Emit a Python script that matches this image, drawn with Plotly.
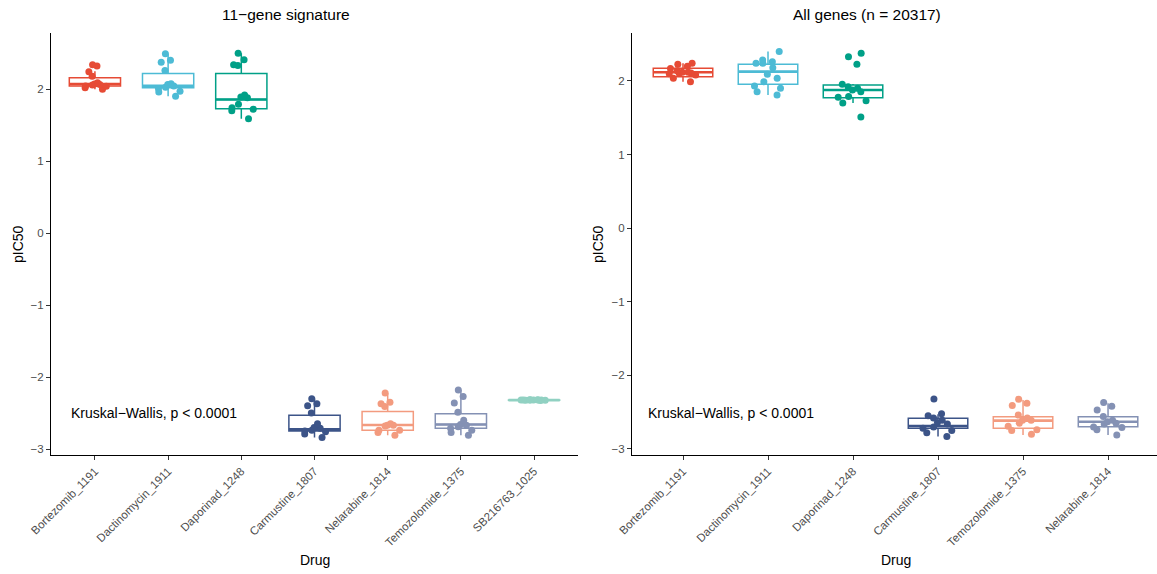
import plotly.graph_objects as go

# ---------------- data: panel 1 (11-gene signature) ----------------
sig_drugs = ["Bortezomib_1191", "Dactinomycin_1911", "Daporinad_1248", "Carmustine_1807",
             "Nelarabine_1814", "Temozolomide_1375", "SB216763_1025"]
sig_bortezomib = [2.34, 2.32, 2.24, 2.18, 2.09, 2.07, 2.065, 2.056, 2.043, 2.04, 2.02, 2.0]
sig_dactinomycin = [2.49, 2.40, 2.375, 2.26, 2.074, 2.065, 2.042, 2.028, 2.009, 1.972, 1.96, 1.90]
sig_daporinad = [2.50, 2.41, 2.34, 2.33, 1.92, 1.89, 1.88, 1.79, 1.74, 1.72, 1.70, 1.59]
sig_carmustine = [-2.30, -2.37, -2.40, -2.50, -2.65, -2.70, -2.71, -2.74, -2.75, -2.76, -2.79, -2.84]
sig_nelarabine = [-2.22, -2.35, -2.37, -2.41, -2.65, -2.67, -2.67, -2.68, -2.74, -2.74, -2.77, -2.81]
sig_temozolomide = [-2.18, -2.27, -2.36, -2.49, -2.60, -2.66, -2.67, -2.69, -2.71, -2.74, -2.77, -2.81]
sig_sb216763 = [-2.32, -2.315, -2.325, -2.32, -2.318, -2.322, -2.32, -2.32, -2.317, -2.323, -2.32, -2.32]
sig_q1 = [2.042, 2.019, 1.727, -2.75, -2.74, -2.71, -2.322]
sig_median = [2.072, 2.045, 1.857, -2.727, -2.667, -2.66, -2.32]
sig_q3 = [2.157, 2.218, 2.218, -2.532, -2.48, -2.51, -2.318]
sig_low = [2.0, 1.90, 1.59, -2.84, -2.81, -2.81, -2.325]
sig_high = [2.25, 2.49, 2.50, -2.30, -2.22, -2.18, -2.315]

# ---------------- data: panel 2 (All genes) ----------------
all_drugs = ["Bortezomib_1191", "Dactinomycin_1911", "Daporinad_1248", "Carmustine_1807",
             "Temozolomide_1375", "Nelarabine_1814"]
all_bortezomib = [2.24, 2.227, 2.20, 2.17, 2.14, 2.12, 2.12, 2.11, 2.104, 2.10, 2.08, 2.036, 1.99]
all_dactinomycin = [2.40, 2.285, 2.26, 2.24, 2.24, 2.18, 2.09, 2.036, 1.99, 1.932, 1.90, 1.855, 1.81]
all_daporinad = [2.376, 2.33, 2.227, 1.955, 1.92, 1.90, 1.878, 1.855, 1.79, 1.78, 1.73, 1.70, 1.51]
all_carmustine = [-2.32, -2.52, -2.55, -2.58, -2.61, -2.64, -2.66, -2.70, -2.72, -2.75, -2.78, -2.83]
all_temozolomide = [-2.325, -2.38, -2.41, -2.54, -2.58, -2.61, -2.61, -2.65, -2.69, -2.74, -2.75, -2.80]
all_nelarabine = [-2.37, -2.42, -2.47, -2.56, -2.61, -2.63, -2.65, -2.66, -2.70, -2.71, -2.74, -2.81]
all_q1 = [2.059, 1.955, 1.773, -2.719, -2.719, -2.697]
all_median = [2.118, 2.127, 1.878, -2.687, -2.615, -2.63]
all_q3 = [2.172, 2.227, 1.946, -2.583, -2.561, -2.561]
all_low = [1.99, 1.81, 1.70, -2.83, -2.81, -2.81]
all_high = [2.24, 2.40, 1.96, -2.53, -2.334, -2.38]

palette = ["#E64B35", "#4DBBD5", "#00A087", "#3C5488", "#F39B7F", "#8491B4", "#91D1C2"]

sig_values = [sig_bortezomib, sig_dactinomycin, sig_daporinad, sig_carmustine,
              sig_nelarabine, sig_temozolomide, sig_sb216763]
all_values = [all_bortezomib, all_dactinomycin, all_daporinad, all_carmustine,
              all_temozolomide, all_nelarabine]

fig = go.Figure()


def add_panel(drugs, values, q1, med, q3, lo, hi, xa, ya):
    for i, d in enumerate(drugs):
        col = palette[i]
        # box body + whiskers
        fig.add_trace(go.Box(
            x=[d], q1=[q1[i]], median=[med[i]], q3=[q3[i]],
            lowerfence=[lo[i]], upperfence=[hi[i]],
            boxpoints=False, width=0.7, fillcolor="white",
            line=dict(color=col, width=1.5), whiskerwidth=0,
            xaxis=xa, yaxis=ya, showlegend=False, hoverinfo="skip"))
        # thicker median bar (a flat box at the median)
        fig.add_trace(go.Box(
            x=[d], q1=[med[i]], median=[med[i]], q3=[med[i]],
            lowerfence=[med[i]], upperfence=[med[i]],
            boxpoints=False, width=0.7, fillcolor="rgba(0,0,0,0)",
            line=dict(color=col, width=2.6), whiskerwidth=0,
            xaxis=xa, yaxis=ya, showlegend=False, hoverinfo="skip"))
        # jittered points
        fig.add_trace(go.Box(
            x=[d] * len(values[i]), y=values[i],
            boxpoints="all", jitter=0.6, pointpos=0, width=0.7,
            fillcolor="rgba(0,0,0,0)", line=dict(color="rgba(0,0,0,0)", width=0),
            marker=dict(color=col, size=7, opacity=1),
            xaxis=xa, yaxis=ya, showlegend=False, hoverinfo="skip"))


add_panel(sig_drugs, sig_values, sig_q1, sig_median, sig_q3, sig_low, sig_high, "x", "y")
add_panel(all_drugs, all_values, all_q1, all_median, all_q3, all_low, all_high, "x2", "y2")

W, H = 1157, 574
T, B = 33, 119
PH = H - T - B
tickfont = dict(family="Liberation Sans, Arial, sans-serif", size=11.5, color="#4D4D4D")
axis_common = dict(showline=True, linecolor="black", linewidth=1, ticks="outside",
                   ticklen=4, tickcolor="#333333", showgrid=False, zeroline=False,
                   tickfont=tickfont, fixedrange=True, automargin=False)

ytickvals = [-3, -2, -1, 0, 1, 2]
yticktext = ["\u22123", "\u22122", "\u22121", "0", "1", "2"]

fig.update_layout(
    width=W, height=H,
    margin=dict(l=0, r=0, t=T, b=B, autoexpand=False),
    plot_bgcolor="white", paper_bgcolor="white",
    font=dict(family="Liberation Sans, Arial, sans-serif", color="black"),
    boxmode="overlay", showlegend=False,
    xaxis=dict(domain=[51 / W, 578 / W], type="category", categoryorder="array",
               categoryarray=sig_drugs, range=[-0.6, 6.6], tickangle=-45, anchor="y",
               **axis_common),
    yaxis=dict(domain=[0, 1], range=[-3.083, 2.78], tickvals=ytickvals, ticktext=yticktext,
               anchor="x", **axis_common),
    xaxis2=dict(domain=[632 / W, 1.0], type="category", categoryorder="array",
                categoryarray=all_drugs, range=[-0.6, 5.576], tickangle=-45, anchor="y2",
                **axis_common),
    yaxis2=dict(domain=[0, 1], range=[-3.082, 2.652], tickvals=ytickvals, ticktext=yticktext,
                anchor="x2", **axis_common),
)


def py(ypx):
    # convert a pixel row of the page into plot-area paper coordinates
    return (H - B - ypx) / PH


ann_font = dict(family="Liberation Sans, Arial, sans-serif", size=14, color="black")
title_font = dict(family="Liberation Sans, Arial, sans-serif", size=15.5, color="black")
annotations = [
    dict(text="11\u2212gene signature", x=286 / W, y=py(15), xref="paper", yref="paper",
         showarrow=False, font=title_font, xanchor="center", yanchor="middle"),
    dict(text="All genes (n = 20317)", x=867 / W, y=py(15), xref="paper", yref="paper",
         showarrow=False, font=title_font, xanchor="center", yanchor="middle"),
    dict(text="pIC50", x=18 / W, y=py(244), xref="paper", yref="paper", textangle=-90,
         showarrow=False, font=ann_font, xanchor="center", yanchor="middle"),
    dict(text="pIC50", x=598 / W, y=py(244), xref="paper", yref="paper", textangle=-90,
         showarrow=False, font=ann_font, xanchor="center", yanchor="middle"),
    dict(text="Drug", x=315 / W, y=py(560), xref="paper", yref="paper",
         showarrow=False, font=ann_font, xanchor="center", yanchor="middle"),
    dict(text="Drug", x=896 / W, y=py(560), xref="paper", yref="paper",
         showarrow=False, font=ann_font, xanchor="center", yanchor="middle"),
    dict(text="Kruskal\u2212Wallis, p < 0.0001", x=0.034, y=-2.5, xref="x domain", yref="y",
         showarrow=False, font=ann_font, xanchor="left", yanchor="middle"),
    dict(text="Kruskal\u2212Wallis, p < 0.0001", x=0.026, y=-2.51, xref="x2 domain", yref="y2",
         showarrow=False, font=ann_font, xanchor="left", yanchor="middle"),
]
fig.update_layout(annotations=annotations)

fig.write_html("out.html", config={"displayModeBar": False, "staticPlot": True},
               post_script="document.body.style.margin='0';document.body.style.overflow='hidden';")
